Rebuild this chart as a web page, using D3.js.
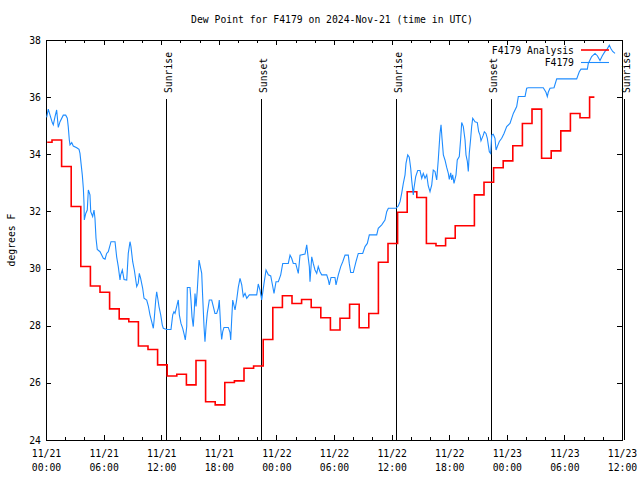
<!DOCTYPE html>
<html><head><meta charset="utf-8">
<script src="https://cdn.jsdelivr.net/npm/d3@7"></script>
<style>
html,body{margin:0;padding:0;background:#fff;}
svg{display:block;}
text{font-family:"DejaVu Sans Mono","Liberation Mono",monospace;font-size:9.75px;fill:#000;}
</style></head>
<body>
<svg id="chart" width="640" height="480"></svg>
<script>
// ---------------- data ----------------
const titleText = "Dew Point for F4179 on 2024-Nov-21 (time in UTC)";
const yLabelText = "degrees F";
const startUTC = Date.UTC(2024, 10, 21, 0, 0);   // 11/21 00:00 UTC
const spanHours = 60;                            // to 11/23 12:00 UTC
const yTicks = [24, 26, 28, 30, 32, 34, 36, 38];
const seriesNames = ["F4179 Analysis", "F4179"];
const seriesColors = ["#ff0000", "#1e8cff"];

// analysis dew point, one value per hour starting 11/21 00 UTC
const analysisDew = [34.42, 34.50, 33.57, 32.17, 30.07, 29.39, 29.17, 28.59, 28.24, 28.14,
  27.29, 27.17, 26.63, 26.24, 26.30, 25.93, 26.78, 25.34, 25.23, 26.01,
  26.07, 26.51, 26.59, 27.52, 28.64, 29.05, 28.78, 28.92, 28.64, 28.28,
  27.85, 28.26, 28.75, 27.93, 28.43, 30.22, 30.88, 31.97, 32.69, 32.49,
  30.88, 30.80, 31.06, 31.50, 31.50, 32.58, 33.02, 33.53, 33.77, 34.30,
  35.08, 35.58, 33.86, 34.12, 34.82, 35.43, 35.28, 36.00];

// observed dew point: [hours since 11/21 00 UTC, deg F]
const observedDew = [[0.07,35.29],[0.24,35.58],[0.42,35.37],[0.66,35.10],[0.76,35.03],[0.94,35.32],[1.11,35.55],[1.28,34.94],[1.46,35.14],[1.80,35.37],[2.05,35.37],[2.22,35.26],[2.32,34.96],[2.43,34.50],[2.50,34.33],[2.68,34.41],[2.84,34.29],[3.20,34.23],[3.44,34.17],[3.54,34.03],[3.65,33.68],[3.78,33.28],[3.89,32.81],[3.96,32.28],[3.99,31.70],[4.14,31.93],[4.30,32.05],[4.41,32.75],[4.58,32.58],[4.66,31.99],[4.86,31.82],[5.00,32.05],[5.10,31.76],[5.21,31.06],[5.34,30.67],[5.63,30.59],[5.97,30.36],[6.15,30.33],[6.32,30.53],[6.49,30.59],[6.77,30.94],[7.19,30.94],[7.36,30.41],[7.53,30.07],[7.71,29.60],[7.78,29.78],[7.95,29.95],[8.13,29.62],[8.41,29.60],[8.57,30.53],[8.75,30.94],[8.85,30.77],[9.03,30.24],[9.20,29.95],[9.45,29.37],[9.61,29.49],[9.72,29.83],[9.86,29.66],[10.07,29.31],[10.21,28.96],[10.49,28.90],[10.66,28.69],[10.83,28.38],[11.01,28.14],[11.18,27.91],[11.28,28.26],[11.43,28.90],[11.53,29.19],[11.64,28.96],[11.77,28.67],[11.95,28.38],[12.11,28.03],[12.22,27.91],[12.57,27.87],[13.02,27.87],[13.20,28.38],[13.33,28.49],[13.44,28.43],[13.61,28.67],[13.78,28.90],[13.89,28.38],[14.06,28.08],[14.24,27.91],[14.41,27.67],[14.51,27.50],[14.66,27.97],[14.72,29.34],[15.00,29.34],[15.10,28.90],[15.21,28.31],[15.34,27.97],[15.45,28.55],[15.52,29.13],[15.63,28.67],[15.76,29.25],[15.94,30.30],[16.04,30.13],[16.22,29.83],[16.32,29.02],[16.46,27.97],[16.56,27.44],[16.67,27.97],[16.80,28.43],[17.01,28.90],[17.26,28.90],[17.43,28.67],[17.60,28.43],[17.78,28.43],[17.95,28.61],[18.05,28.90],[18.20,27.91],[18.30,27.52],[18.41,27.79],[18.54,27.94],[18.99,27.94],[19.17,27.76],[19.24,27.50],[19.34,28.20],[19.45,28.90],[19.69,28.55],[19.86,28.90],[20.03,29.34],[20.21,29.66],[20.39,29.43],[20.55,29.02],[20.73,29.13],[20.91,28.96],[21.18,29.08],[21.95,29.08],[22.11,29.46],[22.29,29.25],[22.47,28.90],[22.71,29.48],[22.92,29.95],[23.16,29.78],[23.41,29.74],[23.61,29.39],[23.75,29.13],[23.96,29.54],[24.20,29.54],[24.45,29.78],[24.66,30.18],[25.24,30.18],[25.42,30.47],[25.59,30.36],[25.76,30.18],[26.01,30.18],[26.28,29.83],[26.46,30.47],[26.98,30.51],[27.16,30.83],[27.26,30.53],[27.43,30.07],[27.50,29.54],[27.68,30.41],[27.84,30.18],[28.02,29.95],[28.20,29.83],[28.36,30.07],[28.54,29.89],[28.72,29.78],[29.24,29.78],[29.41,29.60],[29.51,29.43],[29.69,29.69],[30.10,29.69],[30.21,29.43],[30.45,29.78],[30.70,30.07],[30.91,30.24],[31.15,30.47],[31.49,30.47],[31.59,30.18],[31.74,29.86],[32.01,29.86],[32.29,30.24],[32.53,30.53],[32.99,30.53],[33.23,30.77],[33.47,30.88],[33.68,31.18],[34.45,31.18],[34.61,31.41],[34.97,31.53],[35.31,31.70],[35.49,31.99],[35.66,32.11],[36.46,32.11],[36.70,32.19],[36.88,32.34],[37.05,32.63],[37.22,32.98],[37.40,33.28],[37.50,33.68],[37.68,33.98],[37.84,33.90],[37.99,33.51],[38.09,33.10],[38.26,32.58],[38.33,32.81],[38.51,33.22],[38.72,33.43],[38.96,33.43],[39.14,33.16],[39.30,33.33],[39.48,33.16],[39.66,33.28],[39.82,32.89],[40.00,32.69],[40.18,32.93],[40.34,33.45],[40.52,33.40],[40.70,33.10],[40.86,33.80],[41.04,34.73],[41.15,35.03],[41.25,34.56],[41.39,33.98],[41.56,33.80],[41.74,33.54],[41.91,33.33],[42.01,33.12],[42.16,33.35],[42.26,33.10],[42.36,33.28],[42.50,32.98],[42.71,33.28],[42.84,33.80],[43.05,33.92],[43.20,34.56],[43.30,35.11],[43.47,34.97],[43.65,34.50],[43.75,33.98],[43.89,33.75],[43.99,33.40],[44.09,34.03],[44.24,34.56],[44.34,34.97],[44.45,35.26],[44.69,35.14],[44.93,35.11],[45.07,34.79],[45.21,34.67],[45.31,34.47],[45.55,34.67],[45.66,34.79],[45.83,34.73],[45.97,34.56],[46.07,34.33],[46.18,34.09],[46.32,34.03],[46.43,34.67],[46.59,34.70],[46.77,34.56],[46.88,34.15],[47.01,34.27],[47.22,34.45],[47.47,34.56],[47.71,34.73],[47.99,34.97],[48.33,35.08],[48.68,35.43],[49.03,35.67],[49.20,36.02],[49.90,36.02],[50.07,36.31],[50.24,36.33],[51.80,36.33],[52.08,36.17],[52.22,36.02],[52.32,36.17],[52.50,36.31],[52.92,36.33],[53.20,36.64],[55.28,36.64],[55.55,36.89],[55.73,36.98],[56.39,36.98],[56.49,37.18],[56.84,37.42],[57.19,37.53],[57.43,37.45],[57.71,37.28],[57.95,37.45],[58.23,37.60],[58.47,37.69],[58.68,37.82],[58.82,37.71],[59.03,37.60],[59.27,37.53]];

// sun events: [label, hours since 11/21 00 UTC]
const sunEvents = [["Sunrise", 12.53], ["Sunset", 22.43], ["Sunrise", 36.49], ["Sunset", 46.39], ["Sunrise", 60.31]];

// ---------------- drawing ----------------
const W = 640, H = 480;
const M = {left: 46, right: 622, top: 40, bottom: 440};
const hr = h => new Date(startUTC + h * 3600e3);

const x = d3.scaleUtc().domain([hr(0), hr(spanHours)]).range([M.left, M.right]);
const y = d3.scaleLinear().domain([24, 38]).range([M.bottom, M.top]);

const svg = d3.select("#chart");

const majorTimes = d3.range(0, spanHours + 1, 6).map(hr);
const minorTimes = d3.range(0, spanHours + 1, 2).filter(h => h % 6 !== 0).map(hr);

function clean(g) { g.select(".domain").remove(); g.selectAll("line").attr("stroke", "#000").attr("shape-rendering", "crispEdges"); }

// bottom axis (major, with labels)
const gB = svg.append("g").attr("transform", `translate(0,${M.bottom})`)
  .call(d3.axisBottom(x).tickValues(majorTimes).tickSize(-5).tickFormat(""))
  .call(clean);
gB.selectAll(".tick").each(function(d) {
  const t = d3.select(this).select("text").attr("y", 0).attr("dy", null);
  t.text(null);
  t.append("tspan").attr("x", 0).attr("y", 17).text(d3.utcFormat("%m/%d")(d));
  t.append("tspan").attr("x", 0).attr("y", 31).text(d3.utcFormat("%H:%M")(d));
});
gB.selectAll("text").style("font-size", "9.75px").style("font-family", null);
svg.append("g").attr("transform", `translate(0,${M.bottom})`)
  .call(d3.axisBottom(x).tickValues(minorTimes).tickSize(-3).tickFormat("")).call(clean);
// top axis
svg.append("g").attr("transform", `translate(0,${M.top})`)
  .call(d3.axisTop(x).tickValues(majorTimes).tickSize(-5).tickFormat("")).call(clean);
svg.append("g").attr("transform", `translate(0,${M.top})`)
  .call(d3.axisTop(x).tickValues(minorTimes).tickSize(-3).tickFormat("")).call(clean);
// left axis
const gL = svg.append("g").attr("transform", `translate(${M.left},0)`)
  .call(d3.axisLeft(y).tickValues(yTicks).tickSize(-5).tickPadding(5).tickFormat(d3.format("d")))
  .call(clean);
gL.selectAll("text").style("font-size", "9.75px").style("font-family", null);
gL.attr("font-family", null).attr("font-size", null);
gB.attr("font-family", null).attr("font-size", null);
// right axis
svg.append("g").attr("transform", `translate(${M.right},0)`)
  .call(d3.axisRight(y).tickValues(yTicks).tickSize(-5).tickFormat("")).call(clean);

// frame
svg.append("rect").attr("x", M.left).attr("y", M.top)
  .attr("width", M.right - M.left).attr("height", M.bottom - M.top)
  .attr("fill", "none").attr("stroke", "#000").attr("stroke-width", 1)
  .attr("shape-rendering", "crispEdges");

// sun event lines
const sun = svg.append("g");
sunEvents.forEach(([label, h]) => {
  const sx = x(hr(h));
  sun.append("line").attr("x1", sx).attr("x2", sx).attr("y1", 99).attr("y2", M.bottom)
    .attr("stroke", "#000").attr("stroke-width", 1).attr("shape-rendering", "crispEdges");
  sun.append("text").attr("transform", `translate(${sx + 2},93) rotate(-90)`)
    .attr("text-anchor", "start").attr("dominant-baseline", "central").text(label);
});

// series
const analysisLine = d3.line()
  .x((d, i) => x(hr(i + 0.125)))
  .y(d => y(d))
  .curve(d3.curveStep);
svg.append("path").datum(analysisDew)
  .attr("d", analysisLine).attr("fill", "none")
  .attr("stroke", seriesColors[0]).attr("stroke-width", 1.6);

const obsLine = d3.line().x(d => x(hr(d[0]))).y(d => y(d[1]));
svg.append("path").datum(observedDew)
  .attr("d", obsLine).attr("fill", "none")
  .attr("stroke", seriesColors[1]).attr("stroke-width", 1.1);

// legend
const leg = svg.append("g");
seriesNames.forEach((name, i) => {
  const ly = 50 + i * 12.5;
  leg.append("text").attr("x", 574).attr("y", ly).attr("text-anchor", "end")
    .attr("dominant-baseline", "central").text(name);
  leg.append("line").attr("x1", 581).attr("x2", 609).attr("y1", ly).attr("y2", ly)
    .attr("stroke", seriesColors[i]).attr("stroke-width", i === 0 ? 1.6 : 1.1);
});

// title and y label
svg.append("text").attr("x", 332).attr("y", 19.5).attr("text-anchor", "middle")
  .attr("dominant-baseline", "central").text(titleText);
svg.append("text").attr("transform", `translate(11,240) rotate(-90)`)
  .attr("text-anchor", "middle").attr("dominant-baseline", "central").text(yLabelText);
</script>
</body></html>
